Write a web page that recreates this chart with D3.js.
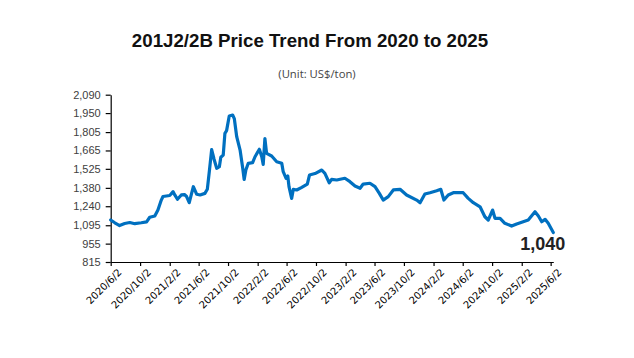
<!DOCTYPE html>
<html>
<head>
<meta charset="utf-8">
<script src="https://cdn.jsdelivr.net/npm/d3@7"></script>
<style>
  html, body { margin: 0; padding: 0; background: #fff; }
  svg { display: block; }
</style>
</head>
<body>
<svg id="chart" width="634" height="358"></svg>
<script>
// ---- Data ----
const dates = [
  "2020-06-02","2020-06-19","2020-07-09","2020-07-30","2020-08-20","2020-09-10","2020-10-07","2020-10-29",
  "2020-11-11","2020-12-02","2020-12-15","2020-12-29","2021-01-05","2021-02-02","2021-02-16","2021-02-23",
  "2021-03-06","2021-03-22","2021-04-04","2021-04-13","2021-04-24","2021-05-11","2021-05-25","2021-06-08",
  "2021-06-28","2021-07-08","2021-07-17","2021-07-26","2021-08-05","2021-08-16","2021-08-27","2021-09-02",
  "2021-09-12","2021-09-19","2021-09-26","2021-10-07","2021-10-21","2021-10-28","2021-11-07","2021-11-21",
  "2021-12-02","2021-12-08","2021-12-15","2021-12-25","2022-01-12","2022-01-22","2022-02-09","2022-02-19",
  "2022-02-25","2022-03-04","2022-03-11","2022-04-01","2022-04-22","2022-05-13","2022-05-19","2022-05-31",
  "2022-06-07","2022-06-12","2022-06-23","2022-06-30","2022-07-14","2022-08-04","2022-08-27","2022-09-05",
  "2022-09-28","2022-10-26","2022-11-08","2022-11-26","2022-12-06","2022-12-27","2023-01-30","2023-02-20",
  "2023-03-13","2023-04-03","2023-04-16","2023-05-14","2023-06-04","2023-06-22","2023-07-08","2023-07-29",
  "2023-08-19","2023-09-16","2023-10-13","2023-11-24","2023-12-08","2023-12-28","2024-01-18","2024-02-15",
  "2024-03-03","2024-03-16","2024-04-03","2024-04-24","2024-06-04","2024-06-25","2024-07-16","2024-08-13",
  "2024-09-02","2024-09-16","2024-10-04","2024-10-14","2024-11-04","2024-11-24","2024-12-22","2025-01-12",
  "2025-02-08","2025-03-01","2025-03-29","2025-04-12","2025-04-26","2025-05-10","2025-05-23","2025-06-13"
];
const prices = [
  1135,1114,1093,1108,1116,1107,1114,1121,
  1156,1166,1211,1287,1314,1322,1351,1326,
  1293,1326,1329,1314,1267,1389,1331,1326,
  1338,1369,1516,1672,1598,1529,1541,1613,
  1630,1796,1816,1928,1935,1908,1770,1668,
  1529,1444,1516,1567,1572,1617,1674,1617,
  1559,1756,1643,1623,1579,1567,1503,1453,
  1470,1389,1300,1369,1364,1384,1409,1478,
  1489,1516,1491,1419,1445,1440,1453,1427,
  1394,1377,1409,1415,1389,1338,1287,1313,
  1364,1369,1326,1287,1267,1333,1343,1358,
  1369,1287,1326,1343,1343,1300,1267,1236,
  1160,1135,1211,1148,1148,1110,1089,1105,
  1122,1135,1198,1166,1122,1140,1110,1040
];
const xTickLabels = [
  "2020/6/2","2020/10/2","2021/2/2","2021/6/2","2021/10/2","2022/2/2","2022/6/2","2022/10/2",
  "2023/2/2","2023/6/2","2023/10/2","2024/2/2","2024/6/2","2024/10/2","2025/2/2","2025/6/2"
];
const yTickValues = [815, 955, 1095, 1240, 1380, 1525, 1665, 1805, 1950, 2090];
const titleText = "201J2/2B Price Trend From 2020 to 2025";
const subtitleText = "(Unit: US$/ton)";

// ---- Build ----
const parseISO = d3.timeParse("%Y-%m-%d");
const parseTick = d3.timeParse("%Y/%-m/%-d");
const series = dates.map((d, i) => ({ date: parseISO(d), value: prices[i] }));
const tickDates = xTickLabels.map(parseTick);

const svg = d3.select("#chart");
const mLeft = 110.7, mRight = 553.3, mTop = 94.7, mBottom = 262;

const x = d3.scaleTime()
  .domain([series[0].date, series[series.length - 1].date])
  .range([mLeft, mRight]);
const y = d3.scaleLinear()
  .domain([815, 2090])
  .range([mBottom, mTop]);

// Title
svg.append("text")
  .attr("x", 310).attr("y", 47)
  .attr("text-anchor", "middle")
  .style("font-family", "'Liberation Sans', Arial, sans-serif")
  .style("font-weight", "bold")
  .style("font-size", "18.7px")
  .style("fill", "#111")
  .text(titleText);

svg.append("text")
  .attr("x", 317).attr("y", 78)
  .attr("text-anchor", "middle")
  .style("font-family", "'Open Sans', sans-serif")
  .style("font-size", "11.3px")
  .style("fill", "#444")
  .text(subtitleText);

// Y axis
const yAxis = d3.axisLeft(y)
  .tickValues(yTickValues)
  .tickFormat(d3.format(","))
  .tickSize(5)
  .tickSizeOuter(0)
  .tickPadding(5);
const gy = svg.append("g")
  .attr("transform", `translate(${mLeft},0)`)
  .call(yAxis);
gy.selectAll("text")
  .style("font-family", "'Liberation Sans', Arial, sans-serif")
  .style("font-size", "11px")
  .style("fill", "#404040");
gy.selectAll("line, path").attr("stroke", "#000").attr("stroke-width", 1.2);

// X axis
const xAxis = d3.axisBottom(x)
  .tickValues(tickDates)
  .tickFormat((d, i) => xTickLabels[i])
  .tickSize(4)
  .tickSizeOuter(0);
const gx = svg.append("g")
  .attr("transform", `translate(0,${mBottom})`)
  .call(xAxis);
gx.selectAll("line, path").attr("stroke", "#000").attr("stroke-width", 1.2);
gx.selectAll("text")
  .attr("text-anchor", "end")
  .attr("transform", "translate(4,4) rotate(-45)")
  .attr("dy", "0.6em")
  .attr("dx", "0")
  .attr("y", 4)
  .style("font-family", "'DejaVu Sans', Verdana, sans-serif")
  .style("font-size", "10px")
  .style("fill", "#000");

// Line
const line = d3.line()
  .x(d => x(d.date))
  .y(d => y(d.value));
svg.append("path")
  .datum(series)
  .attr("fill", "none")
  .attr("stroke", "#0070C0")
  .attr("stroke-width", 3.2)
  .attr("stroke-linejoin", "round")
  .attr("stroke-linecap", "round")
  .attr("d", line);

// Last value label
const last = series[series.length - 1];
svg.append("text")
  .attr("x", x(last.date) + 12)
  .attr("y", y(last.value) + 18)
  .attr("text-anchor", "end")
  .style("font-family", "'Liberation Sans', Arial, sans-serif")
  .style("font-weight", "bold")
  .style("font-size", "18px")
  .style("fill", "#222")
  .text(d3.format(",")(last.value));
</script>
</body>
</html>
